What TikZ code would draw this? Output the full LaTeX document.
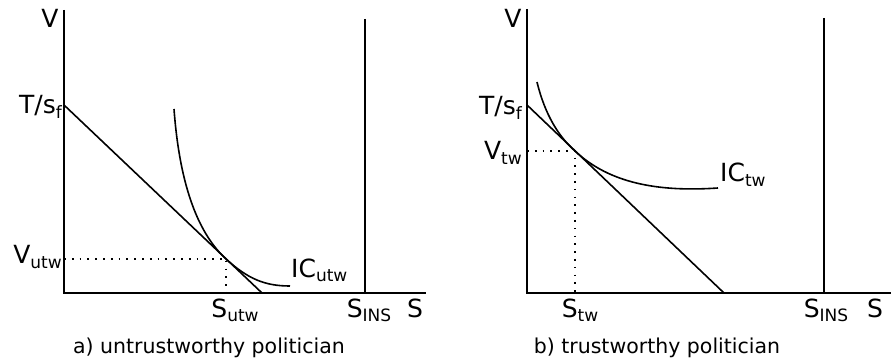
\documentclass[tikz,border=0pt]{standalone}
\usepackage{fontspec}
\setmainfont{DejaVu Sans}
\usetikzlibrary{positioning}
\newcommand{\lo}[1]{\raisebox{-0.3ex}{\fontsize{17}{17}\selectfont#1}}

\begin{document}
\begin{tikzpicture}[x=1pt,y=-1pt,
 ax/.style={line width=2pt},
 cv/.style={line width=1.6pt},
 gd/.style={line width=1.7pt,dash pattern=on 1.7pt off 6.1pt},
 lb/.style={font=\fontsize{25}{27}\selectfont,inner sep=0pt},
 captxt/.style={font=\fontsize{20.5}{23}\selectfont,inner sep=0pt}]
 \useasboundingbox (0,0) rectangle (891,363);
 % a) untrustworthy
 \coordinate (o1) at (64,293);
 \coordinate (vtop1) at (64,10);
 \coordinate (xend1) at (426,293);
 \coordinate (ins1top) at (365,19);
 \coordinate (ins1) at (365,293);
 \coordinate (t1) at (64,105);
 \coordinate (b1) at (262,293);
 \coordinate (p1) at (226,259);
 \coordinate (p1x) at (226,293);
 \coordinate (p1y) at (64,259);
 \draw[ax] (vtop1)--(o1)--(xend1);
 \draw[ax] (ins1top)--(ins1);
 \draw[cv] (t1)--(b1);
 \draw[cv] (174,109) .. controls (180,190) and (200,235) .. (p1)
   .. controls (248,279) and (265,286) .. (290,286) coordinate (ic1);
 \draw[gd] (p1y)--(p1)--(p1x);
 \node[lb,anchor=base] (v1) at (50,28) {V};
 \node[lb,anchor=base east] (ts1) at (62,114) {T/s\lo{f}};
 \node[lb,anchor=base east] (vu) at (62,264) {V\lo{utw}};
 \node[lb,anchor=base west] (icu) at (291,277) {IC\lo{utw}};
 \node[lb,anchor=base] (su) at (235,317) {S\lo{utw}};
 \node[lb,anchor=base] (si1) at (369,317) {S\lo{INS}};
 \node[lb,anchor=base] (s1) at (415,317) {S};
 \node[captxt,anchor=base] (capa) at (209,353) {a) untrustworthy politician};
 % b) trustworthy
 \coordinate (o2) at (527,293);
 \coordinate (vtop2) at (527,9);
 \coordinate (xend2) at (891,293);
 \coordinate (ins2top) at (824,18);
 \coordinate (ins2) at (824,293);
 \coordinate (t2) at (527,105);
 \coordinate (b2) at (724,293);
 \coordinate (p2) at (575,151);
 \coordinate (p2x) at (575,293);
 \coordinate (p2y) at (527,151);
 \draw[ax] (vtop2)--(o2)--(xend2);
 \draw[ax] (ins2top)--(ins2);
 \draw[cv] (t2)--(b2);
 \draw[cv] (537,82) .. controls (545,115) and (559,137) .. (p2)
   .. controls (610,184) and (660,192) .. (718,188) coordinate (ic2);
 \draw[gd] (p2y)--(p2)--(p2x);
 \node[lb,anchor=base] (v2) at (513,28) {V};
 \node[lb,anchor=base east] (ts2) at (522,115) {T/s\lo{f}};
 \node[lb,anchor=base east] (vt) at (522,160) {V\lo{tw}};
 \node[lb,anchor=base west] (ict) at (720,182) {IC\lo{tw}};
 \node[lb,anchor=base] (st) at (580,317) {S\lo{tw}};
 \node[lb,anchor=base] (si2) at (826,317) {S\lo{INS}};
 \node[lb,anchor=base west] (s2) at (867,317) {S};
 \node[captxt,anchor=base] (capb) at (657,353) {b) trustworthy politician};
\end{tikzpicture}
\end{document}
